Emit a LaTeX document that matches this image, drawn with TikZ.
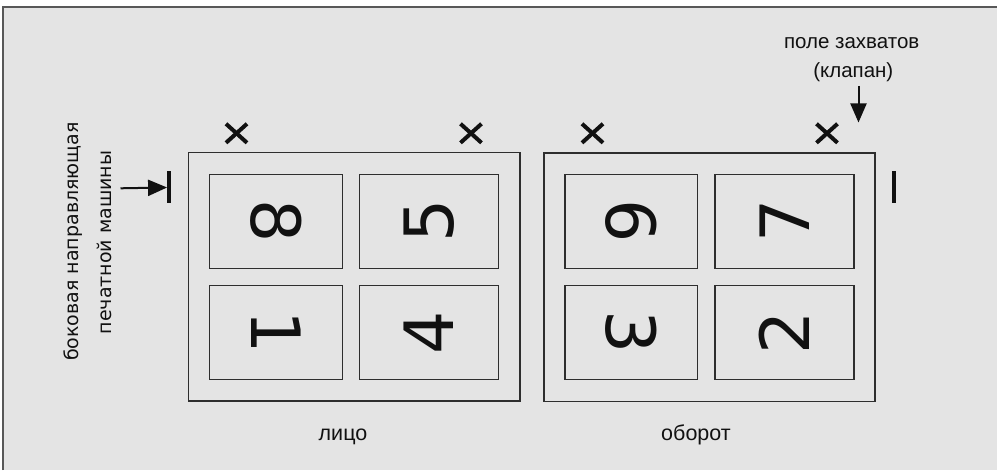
\documentclass[tikz,border=0pt]{standalone}
\usepackage{fontspec}
\setmainfont{Liberation Sans}
\newfontfamily\djv{DejaVu Sans}
\usetikzlibrary{arrows.meta}
\definecolor{bggray}{HTML}{E4E4E4}
\definecolor{linegray}{HTML}{2E2E2E}
\definecolor{inkblack}{HTML}{111111}
\begin{document}
\begin{tikzpicture}[x=1pt,y=-1pt,
  sheet/.style={draw=linegray,line width=1.4pt,minimum width=#1,minimum height=248.5pt,inner sep=0pt},
  pagebox/.style={draw=linegray,line width=1.4pt,minimum height=94pt,inner sep=0pt},
  digit/.style={text=inkblack,font=\djv\fontsize{68}{68}\selectfont,inner sep=0pt},
  lbl/.style={text=inkblack,inner sep=0pt},
  bar/.style={fill=inkblack,minimum width=4pt,minimum height=32pt,inner sep=0pt},
  crossmark/.style={draw=inkblack,line width=4pt},
  pointer/.style={draw=inkblack,line width=2pt,-{Triangle[length=19pt,width=16pt]}}
]
\useasboundingbox (0,0) rectangle (997,473);
\fill[white] (0,0) rectangle (997,473);
\fill[bggray] (3,7) rectangle (997,470);
\draw[linegray!80,line width=2pt] (3,470) -- (3,7) -- (997,7);

% sheets
\node[sheet=331.7pt] (face) at (354.2,276.9) {};
\node[sheet=331pt] (back) at (709.5,277.2) {};

% pages, face side
\node[pagebox,minimum width=133pt] (p8) at (275.8,221.3) {};
\node[pagebox,minimum width=139pt] (p5) at (428.8,221.3) {};
\node[pagebox,minimum width=133pt] (p1) at (275.8,332.5) {};
\node[pagebox,minimum width=139pt] (p4) at (428.8,332.5) {};
% pages, back side
\node[pagebox,minimum width=132.7pt] (p6) at (631.3,221.3) {};
\node[pagebox,minimum width=139pt] (p7) at (784.5,221.3) {};
\node[pagebox,minimum width=132.7pt] (p3) at (631.3,332.5) {};
\node[pagebox,minimum width=139pt] (p2) at (784.5,332.5) {};

\node[digit,rotate=-90] (d8) at (p8) {8};
\node[digit,rotate=90] (d5) at (p5) {5};
\node[digit,rotate=-90] (d1) at (p1) {1};
\node[digit,rotate=90] (d4) at (p4) {4};
\node[digit,rotate=-90] (d6) at (p6) {6};
\node[digit,rotate=90] (d7) at (p7) {7};
\node[digit,rotate=-90] (d3) at (p3) {3};
\node[digit,rotate=90] (d2) at (p2) {2};

% cross marks
\foreach \n/\cx in {x1/236.5,x2/471,x3/592.5,x4/827}{
  \coordinate (\n) at (\cx,133.3);
  \draw[crossmark] (\n) ++(-10.5,-9.5) -- ++(21,19);
  \draw[crossmark] (\n) ++(10.5,-9.5) -- ++(-21,19);
}

% side guide
\node[bar] (guide) at (169.3,187.5) {};
\coordinate (guidetail) at (120.5,188.3);
\draw[pointer] (guidetail) -- (guide.west);
\node[bar] (rbar) at (894.3,187) {};

% gripper edge
\coordinate (griptail) at (858.5,86);
\coordinate (griptip) at (858.5,122.5);
\draw[pointer] (griptail) -- (griptip);
\node[lbl,font=\fontsize{20.5}{24}\selectfont] (grip1) at (851.7,42.7) {поле захватов};
\node[lbl,font=\fontsize{20.5}{24}\selectfont] (grip2) at (853.3,71.7) {(клапан)};

% side label
\node[lbl,rotate=90,font=\djv\fontsize{19}{22}\selectfont] (side1) at (73,241.5) {боковая направляющая};
\node[lbl,rotate=90,font=\djv\fontsize{19}{22}\selectfont] (side2) at (104,242.5) {печатной машины};

% bottom labels
\node[lbl,font=\fontsize{21.5}{24}\selectfont] (lface) at (343,436.5) {лицо};
\node[lbl,font=\fontsize{21.5}{24}\selectfont] (lback) at (696,435) {оборот};
\end{tikzpicture}
\end{document}
